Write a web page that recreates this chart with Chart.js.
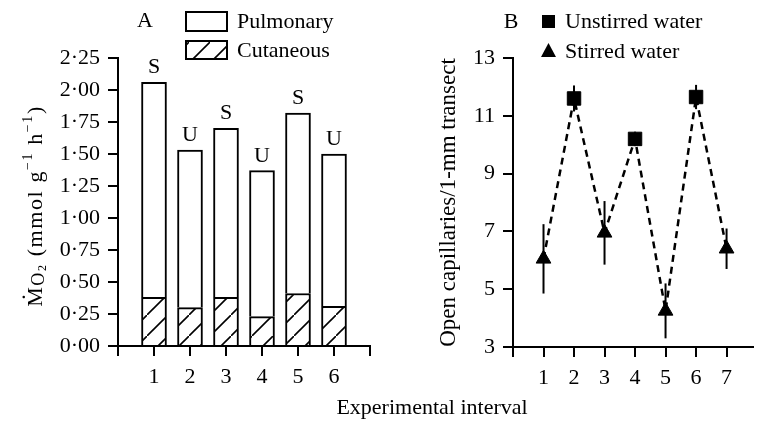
<!DOCTYPE html>
<html>
<head>
<meta charset="utf-8">
<script src="https://cdn.jsdelivr.net/npm/chart.js@4.4.1/dist/chart.umd.min.js"></script>
<style>
  body { margin: 0; background: #fff; }
  #wrap { position: relative; width: 763px; height: 425px; }
  #wrap canvas { position: absolute; left: 0; top: 0; }
</style>
</head>
<body>
<div id="wrap">
  <canvas id="chartA" width="763" height="425"></canvas>
  <canvas id="chartB" width="763" height="425"></canvas>
</div>
<script>
// Panel A - O2 uptake, pulmonary on top of cutaneous
const intervalsA = ['1', '2', '3', '4', '5', '6'];
const cutaneous = [0.38, 0.30, 0.38, 0.23, 0.41, 0.31];
const pulmonary = [1.68, 1.23, 1.32, 1.14, 1.41, 1.19];
const waterA = ['S', 'U', 'S', 'U', 'S', 'U'];

// Panel B - open capillaries (mean and error)
const intervalsB = [1, 2, 3, 4, 5, 6, 7];
const capMeans = [6.05, 11.6, 6.95, 10.2, 4.25, 11.65, 6.4];
const capErr = [1.2, 0.45, 1.1, 0.25, 0.95, 0.42, 0.7];
const waterB = ['S', 'U', 'S', 'U', 'S', 'U', 'S'];

const serif = "'Liberation Serif', 'Times New Roman', serif";
Chart.defaults.font.family = serif;
Chart.defaults.font.size = 22;
Chart.defaults.color = '#000';

function hatchPattern(ctx) {
  const c = document.createElement('canvas');
  c.width = 21; c.height = 21;
  const g = c.getContext('2d');
  g.fillStyle = '#fff';
  g.fillRect(0, 0, 21, 21);
  g.strokeStyle = '#000';
  g.lineWidth = 1.6;
  g.beginPath();
  g.moveTo(-4, 25); g.lineTo(25, -4);
  g.stroke();
  return ctx.createPattern(c, 'repeat');
}

const ctxA = document.getElementById('chartA').getContext('2d');
const hatch = hatchPattern(ctxA);

// category axis padded with an empty slot at each end so ticks sit at 0..7
const labelsA = [''].concat(intervalsA, ['']);
const pad = arr => [null].concat(arr, [null]);

const axisStyle = {
  grid: { drawOnChartArea: false, color: '#000', lineWidth: 2, tickLength: 10 },
  border: { color: '#000', width: 2 }
};

function drawMO2Title(ctx) {
  const segs = [
    { t: 'M', s: 22, dy: 0 }, { t: 'O', s: 18, dy: 2 }, { t: '2', s: 12, dy: 4 },
    { t: ' (mmol g', s: 22, dy: 0 }, { t: '\u22121', s: 14, dy: -10 },
    { t: ' h', s: 22, dy: 0 }, { t: '\u22121', s: 14, dy: -10 }, { t: ')', s: 22, dy: 0 }
  ];
  const sp = 1.6;
  ctx.save();
  ctx.translate(42, 206);
  ctx.rotate(-Math.PI / 2);
  ctx.fillStyle = '#000';
  ctx.textAlign = 'left';
  ctx.textBaseline = 'alphabetic';
  let total = 0;
  segs.forEach(g => {
    ctx.font = g.s + 'px ' + serif;
    for (const ch of g.t) total += ctx.measureText(ch).width + sp;
  });
  let x = -total / 2;
  segs.forEach((g, k) => {
    ctx.font = g.s + 'px ' + serif;
    for (const ch of g.t) {
      const w = ctx.measureText(ch).width;
      ctx.fillText(ch, x, g.dy);
      if (k === 0) {
        const pw = ctx.measureText('.').width;
        ctx.fillText('.', x + w / 2 - pw / 2, -0.78 * g.s);
      }
      x += w + sp;
    }
  });
  ctx.restore();
}

const annotateA = {
  id: 'annotateA',
  afterDraw(chart) {
    const ctx = chart.ctx;
    ctx.save();
    ctx.fillStyle = '#000';
    ctx.font = '22px ' + serif;
    ctx.textBaseline = 'alphabetic';
    // S / U over each bar
    ctx.textAlign = 'center';
    const meta = chart.getDatasetMeta(1);
    meta.data.forEach((bar, i) => {
      if (i === 0 || i > intervalsA.length) return;
      ctx.fillText(waterA[i - 1], bar.x, bar.y - 9);
    });
    ctx.fillText('A', 145, 27);
    ctx.fillText('Experimental interval', 432, 414);
    // legend
    ctx.lineWidth = 2;
    ctx.strokeStyle = '#000';
    ctx.fillStyle = '#fff';
    ctx.fillRect(186, 12, 41, 19);
    ctx.strokeRect(186, 12, 41, 19);
    ctx.fillStyle = hatch;
    ctx.fillRect(186, 41, 41, 18);
    ctx.strokeRect(186, 41, 41, 18);
    ctx.fillStyle = '#000';
    ctx.textAlign = 'left';
    ctx.fillText('Pulmonary', 237, 28);
    ctx.fillText('Cutaneous', 237, 57);
    ctx.restore();
    drawMO2Title(ctx);
  }
};

new Chart(ctxA, {
  type: 'bar',
  data: {
    labels: labelsA,
    datasets: [
      { label: 'Cutaneous', data: pad(cutaneous), backgroundColor: hatch, borderColor: '#000', borderWidth: 2, barThickness: 25 },
      { label: 'Pulmonary', data: pad(pulmonary), backgroundColor: '#fff', borderColor: '#000', borderWidth: 2, barThickness: 25 }
    ]
  },
  options: {
    responsive: false,
    animation: false,
    devicePixelRatio: 1,
    layout: { padding: { left: 14, top: 58, right: 393, bottom: 0 } },
    plugins: { legend: { display: false }, tooltip: { enabled: false } },
    scales: {
      x: {
        stacked: true,
        offset: false,
        grid: { ...axisStyle.grid, offset: false },
        border: axisStyle.border,
        ticks: { padding: 8, autoSkip: false, maxRotation: 0 },
        afterFit: s => { s.height = 79; }
      },
      y: {
        stacked: true,
        min: 0,
        max: 2.25,
        grid: axisStyle.grid,
        border: axisStyle.border,
        ticks: { stepSize: 0.25, padding: 8, callback: v => v.toFixed(2).replace('.', '\u00b7') },
        afterFit: s => { s.width = 104; }
      }
    }
  },
  plugins: [annotateA]
});

// ---- Panel B ----
const ptsB = intervalsB.map((x, i) => ({ x: x, y: capMeans[i] }));
const unstirredPts = ptsB.filter((p, i) => waterB[i] === 'U');
const stirredPts = ptsB.filter((p, i) => waterB[i] === 'S');

const annotateB = {
  id: 'annotateB',
  beforeDatasetsDraw(chart) {
    const ctx = chart.ctx;
    const xs = chart.scales.x, ys = chart.scales.y;
    ctx.save();
    ctx.strokeStyle = '#000';
    ctx.lineWidth = 2;
    intervalsB.forEach((v, i) => {
      const x = xs.getPixelForValue(v);
      ctx.beginPath();
      ctx.moveTo(x, ys.getPixelForValue(capMeans[i] + capErr[i]));
      ctx.lineTo(x, ys.getPixelForValue(capMeans[i] - capErr[i]));
      ctx.stroke();
    });
    ctx.restore();
  },
  afterDraw(chart) {
    const ctx = chart.ctx;
    ctx.save();
    ctx.fillStyle = '#000';
    ctx.font = '22px ' + serif;
    ctx.textBaseline = 'alphabetic';
    ctx.textAlign = 'center';
    ctx.fillText('B', 511, 28);
    ctx.fillRect(542, 15, 13, 13);
    ctx.beginPath();
    ctx.moveTo(548.5, 43); ctx.lineTo(556, 57); ctx.lineTo(541, 57);
    ctx.closePath();
    ctx.fill();
    ctx.textAlign = 'left';
    ctx.fillText('Unstirred water', 565, 28);
    ctx.fillText('Stirred water', 565, 58);
    ctx.restore();
  }
};

new Chart(document.getElementById('chartB'), {
  type: 'scatter',
  data: {
    datasets: [
      { label: 'Unstirred water', data: unstirredPts, pointStyle: 'rect', pointRadius: 9.5, backgroundColor: '#000', borderColor: '#000', borderWidth: 1 },
      { label: 'Stirred water', data: stirredPts, pointStyle: 'triangle', pointRadius: 8.5, backgroundColor: '#000', borderColor: '#000', borderWidth: 1 },
      { label: 'trend', data: ptsB, showLine: true, borderColor: '#000', borderWidth: 2.5, borderDash: [7, 5], pointRadius: 0 }
    ]
  },
  options: {
    responsive: false,
    animation: false,
    devicePixelRatio: 1,
    layout: { padding: { left: 435, top: 58, right: 0, bottom: 0 } },
    plugins: { legend: { display: false }, tooltip: { enabled: false } },
    scales: {
      x: {
        type: 'linear',
        min: 0,
        max: 7.85,
        grid: axisStyle.grid,
        border: axisStyle.border,
        ticks: { stepSize: 1, includeBounds: false, padding: 8, maxRotation: 0, autoSkip: false, callback: v => (v === 0 ? '' : String(v)) },
        afterBuildTicks: s => { s.ticks = s.ticks.filter(t => Number.isInteger(t.value)); },
        afterFit: s => { s.height = 78; }
      },
      y: {
        min: 3,
        max: 13,
        grid: axisStyle.grid,
        border: axisStyle.border,
        ticks: { stepSize: 1, padding: 8, callback: v => (v % 2 ? String(v) : '') },
        title: { display: true, text: 'Open capillaries/1-mm transect', font: { size: 23 }, padding: 0 },
        afterFit: s => { s.width = 78; }
      }
    }
  },
  plugins: [annotateB]
});
</script>
</body>
</html>
